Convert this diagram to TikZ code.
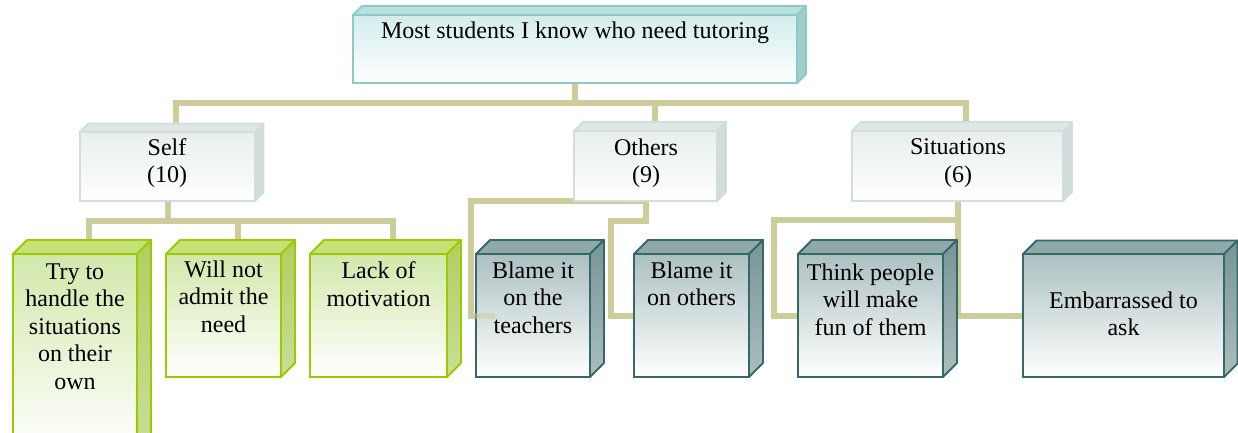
\documentclass[tikz,border=0pt]{standalone}
\usepackage{fontspec}
\setmainfont{Liberation Serif}

\definecolor{connc}{RGB}{205,205,155}
% root box
\definecolor{rootb}{RGB}{140,202,202}
\definecolor{roottopc}{RGB}{185,222,222}
\definecolor{rootsidec}{RGB}{160,205,205}
\definecolor{rootf}{RGB}{212,236,236}
% category boxes
\definecolor{catb}{RGB}{210,222,222}
\definecolor{cattopc}{RGB}{222,230,230}
\definecolor{catsidec}{RGB}{210,220,220}
\definecolor{catf}{RGB}{232,238,238}
% green boxes
\definecolor{gb}{RGB}{153,204,0}
\definecolor{gtopc}{RGB}{197,225,120}
\definecolor{gsidet}{RGB}{177,206,96}
\definecolor{gsideb}{RGB}{202,222,152}
\definecolor{gf}{RGB}{210,232,170}
% dark teal boxes
\definecolor{db}{RGB}{53,105,105}
\definecolor{dtopc}{RGB}{143,168,168}
\definecolor{dsidet}{RGB}{120,148,148}
\definecolor{dsideb}{RGB}{172,190,190}
\definecolor{df}{RGB}{172,192,192}

% front face as a named node, top and side faces drawn from its anchors
\newcommand\boxcube[7]{%
  \node[boxbase,#7front,minimum width={(#4)-(#2)},minimum height={(#5)-(#3)}]
    (#1) at ({((#2)+(#4))/2},{((#3)+(#5))/2}) {};
  \path[#7top] (#1.north west) -- ++(#6,-#6) -- ([shift={(#6,-#6)}]#1.north east)
    -- (#1.north east) -- cycle;
  \path[#7side] (#1.north east) -- ++(#6,-#6) -- ([shift={(#6,-#6)}]#1.south east)
    -- (#1.south east) -- cycle;
}

\begin{document}
\begin{tikzpicture}[x=1pt,y=-1pt,
  conn/.style={draw=connc,line width=6pt},
  lbl/.style={font=\fontsize{24}{27.5}\selectfont,align=center,inner sep=0pt,text=black},
  boxbase/.style={rectangle,inner sep=0pt,outer sep=0pt,line width=1.8pt},
  rootfront/.style={draw=rootb,top color=rootf,bottom color=white},
  roottop/.style={fill=roottopc,draw=rootb,line width=1.8pt,line join=round},
  rootside/.style={fill=rootsidec,draw=rootb,line width=1.8pt,line join=round},
  catfront/.style={draw=catb,top color=catf,bottom color=white},
  cattop/.style={fill=cattopc,draw=catb,line width=1.8pt,line join=round},
  catside/.style={fill=catsidec,draw=catb,line width=1.8pt,line join=round},
  greenfront/.style={draw=gb,top color=gf,bottom color=white},
  greentop/.style={fill=gtopc,draw=gb,line width=1.8pt,line join=round},
  greenside/.style={top color=gsidet,bottom color=gsideb,draw=gb,line width=1.8pt,line join=round},
  darkfront/.style={draw=db,top color=df,bottom color=white},
  darktop/.style={fill=dtopc,draw=db,line width=1.8pt,line join=round},
  darkside/.style={top color=dsidet,bottom color=dsideb,draw=db,line width=1.8pt,line join=round},
]
\useasboundingbox (0,0) rectangle (1238,433);
\clip (0,0) rectangle (1238,433);

% invisible placement of the boxes first, so connectors can use their anchors
\begin{scope}[opacity=0]
  \boxcube{root}{353}{15}{797}{83}{9}{root}
  \boxcube{self}{80}{132}{255}{201}{8.5}{cat}
  \boxcube{others}{574}{131}{717}{201}{9}{cat}
  \boxcube{sit}{852}{131}{1063}{201}{9}{cat}
  \boxcube{g1}{13}{254}{137}{450}{14}{green}
  \boxcube{g2}{166}{254}{281}{377}{14}{green}
  \boxcube{g3}{310}{254}{447}{377}{14}{green}
  \boxcube{d1}{476}{254}{590}{377}{14}{dark}
  \boxcube{d2}{634}{254}{749}{377}{14}{dark}
  \boxcube{d3}{798}{254}{943}{377}{14}{dark}
  \boxcube{d4}{1023}{254}{1224}{377}{13.5}{dark}
\end{scope}

% connectors
\draw[conn] (root.south) -- ++(0,20) -| ([xshift=8.5]self.north);
\draw[conn] (root.south) -- ++(0,20) -| ([xshift=9.5]others.north);
\draw[conn] (root.south) -- ++(0,20) -| ([xshift=8.5]sit.north);

\draw[conn] (self.south) -- ++(0,20) -| ([xshift=14]g1.north);
\draw[conn] (self.south) -- ++(0,20) -| ([xshift=14]g2.north);
\draw[conn] (self.south) -- ++(0,20) -| ([xshift=14]g3.north);

\draw[conn] ([xshift=2]others.south) -| ([xshift=-5]d1.west) -- (d1.west);
\draw[conn] (others.south) -- ++(0,20) -| ([xshift=-23]d2.west) -- (d2.west);

\draw[conn] (sit.south) |- (d4.west);
\draw[conn] ([yshift=-19]sit.south) -| ([xshift=-24]d3.west) -- (d3.west);

% boxes
\boxcube{root}{353}{15}{797}{83}{9}{root}
\boxcube{self}{80}{132}{255}{201}{8.5}{cat}
\boxcube{others}{574}{131}{717}{201}{9}{cat}
\boxcube{sit}{852}{131}{1063}{201}{9}{cat}
\boxcube{g1}{13}{254}{137}{450}{14}{green}
\boxcube{g2}{166}{254}{281}{377}{14}{green}
\boxcube{g3}{310}{254}{447}{377}{14}{green}
\boxcube{d1}{476}{254}{590}{377}{14}{dark}
\boxcube{d2}{634}{254}{749}{377}{14}{dark}
\boxcube{d3}{798}{254}{943}{377}{14}{dark}
\boxcube{d4}{1023}{254}{1224}{377}{13.5}{dark}

% faint end of the connector running onto the first dark box
\draw[conn,draw opacity=0.5] ([xshift=-5]d1.west) -- ([xshift=19]d1.west);

% labels
\node[lbl] (troot) at (575,32.5) {Most students I know who need tutoring};
\node[lbl] (tself) at (167,163) {Self\\(10)};
\node[lbl] (tothers) at (646,163) {Others\\(9)};
\node[lbl] (tsit) at (958,163) {Situations\\(6)};
\node[lbl] (tg1) at (75,326.5) {Try to\\handle the\\situations\\on their\\own};
\node[lbl] (tg2) at (223.5,296.6) {Will not\\admit the\\need};
\node[lbl] (tg3) at (378.5,284) {Lack of\\motivation};
\node[lbl] (td1) at (533,297.6) {Blame it\\on the\\teachers};
\node[lbl] (td2) at (691.5,284) {Blame it\\on others};
\node[lbl] (td3) at (870.5,299.3) {Think people\\will make\\fun of them};
\node[lbl] (td4) at (1123.5,313.8) {Embarrassed to\\ask};
\end{tikzpicture}
\end{document}
